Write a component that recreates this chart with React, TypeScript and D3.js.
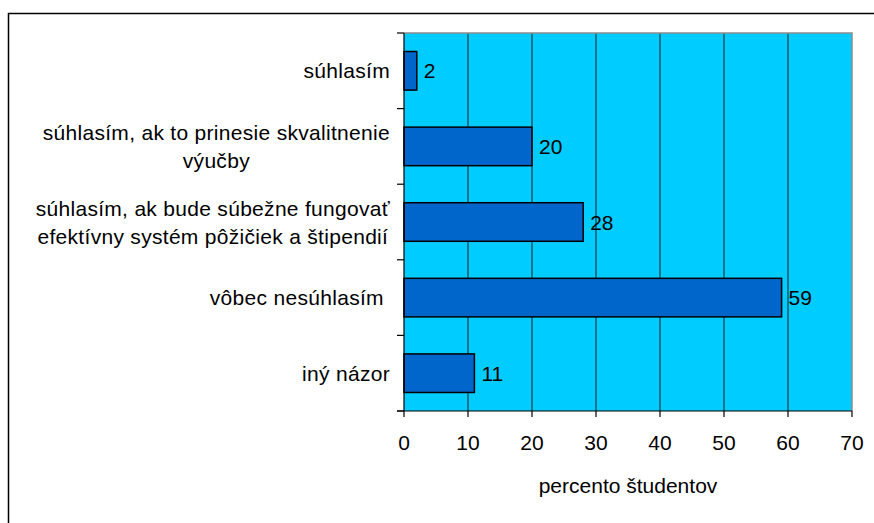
import React from "react";
import * as d3 from "d3";

const categories: string[][] = [
  ["súhlasím"],
  ["súhlasím, ak to prinesie skvalitnenie", "výučby"],
  ["súhlasím, ak bude súbežne fungovať", "efektívny systém pôžičiek a štipendií"],
  ["vôbec nesúhlasím "],
  ["iný názor"],
];
const values: number[] = [2, 20, 28, 59, 11];
const xTicks: number[] = [0, 10, 20, 30, 40, 50, 60, 70];
const xTitle = "percento študentov";

const W = 874;
const H = 523;
const plot = { left: 404, right: 852, top: 33, bottom: 411 };
const FONT = "Liberation Sans, Arial, sans-serif";
const FS = 21;
const LS = 0.3;

let ctx: CanvasRenderingContext2D | null = null;
function measure(t: string): number {
  if (!ctx) {
    const c = document.createElement("canvas");
    ctx = c.getContext("2d");
  }
  if (!ctx) return t.length * FS * 0.5;
  ctx.font = `${FS}px "Liberation Sans"`;
  return ctx.measureText(t).width + t.length * LS;
}

export default function App() {
  const x = d3.scaleLinear().domain([0, 70]).range([plot.left, plot.right]);
  const y = d3
    .scaleBand<number>()
    .domain(d3.range(categories.length))
    .range([plot.top, plot.bottom])
    .paddingInner(0.49)
    .paddingOuter(0.245);
  const step = y.step();
  const labelRight = 390;
  const lineH = 28;

  return (
    <svg
      width={W}
      height={H}
      style={{ position: "absolute", left: 0, top: 0, background: "#fff" }}
      fontFamily={FONT}
    >
      <rect x={8.5} y={13.5} width={1000} height={1000} fill="#fff" stroke="#000" strokeWidth={1.5} />
      <rect
        x={plot.left}
        y={plot.top}
        width={plot.right - plot.left}
        height={plot.bottom - plot.top}
        fill="#00CCFF"
      />
      {xTicks.slice(1, -1).map((t) => (
        <line key={t} x1={x(t)} x2={x(t)} y1={plot.top} y2={plot.bottom} stroke="#0d3a47" strokeWidth={1.2} />
      ))}
      <path
        d={`M${plot.left},${plot.top}H${plot.right}V${plot.bottom}`}
        fill="none"
        stroke="#8c8c8c"
        strokeWidth={1.5}
      />
      {values.map((v, i) => (
        <g key={i}>
          <rect
            x={x(0)}
            y={y(i)!}
            width={x(v) - x(0)}
            height={y.bandwidth()}
            fill="#0066CC"
            stroke="#000"
            strokeWidth={1.5}
          />
          <text
            x={x(v) + 7}
            y={y(i)! + y.bandwidth() / 2}
            dy="0.36em"
            fontSize={FS}
            fill="#000"
          >
            {v}
          </text>
        </g>
      ))}
      <line x1={plot.left} x2={plot.left} y1={plot.top} y2={plot.bottom} stroke="#000" strokeWidth={1.2} />
      <line x1={plot.left - 7} x2={plot.right} y1={plot.bottom} y2={plot.bottom} stroke="#000" strokeWidth={1.2} />
      {d3.range(categories.length + 1).map((k) => (
        <line
          key={k}
          x1={plot.left - 7}
          x2={plot.left}
          y1={plot.top + k * step}
          y2={plot.top + k * step}
          stroke="#000"
          strokeWidth={1.2}
        />
      ))}
      {xTicks.map((t) => (
        <g key={t}>
          <line x1={x(t)} x2={x(t)} y1={plot.bottom} y2={plot.bottom + 6} stroke="#000" strokeWidth={1.2} />
          <text x={x(t)} y={450} textAnchor="middle" fontSize={FS} fill="#000">
            {t}
          </text>
        </g>
      ))}
      {categories.map((lines, i) => {
        const widths = lines.map(measure);
        const maxW = Math.max(...widths);
        const cx = labelRight - maxW / 2;
        const cy = plot.top + (i + 0.5) * step;
        const y0 = cy - ((lines.length - 1) * lineH) / 2;
        return (
          <text
            key={i}
            fontSize={FS}
            fill="#000"
            textAnchor="middle"
            letterSpacing={LS}
            style={{ whiteSpace: "pre" }}
          >
            {lines.map((l, j) => (
              <tspan key={j} x={cx} y={y0 + j * lineH} dy="0.36em">
                {l}
              </tspan>
            ))}
          </text>
        );
      })}
      <text x={(plot.left + plot.right) / 2} y={493} textAnchor="middle" fontSize={FS} fill="#000">
        {xTitle}
      </text>
    </svg>
  );
}
